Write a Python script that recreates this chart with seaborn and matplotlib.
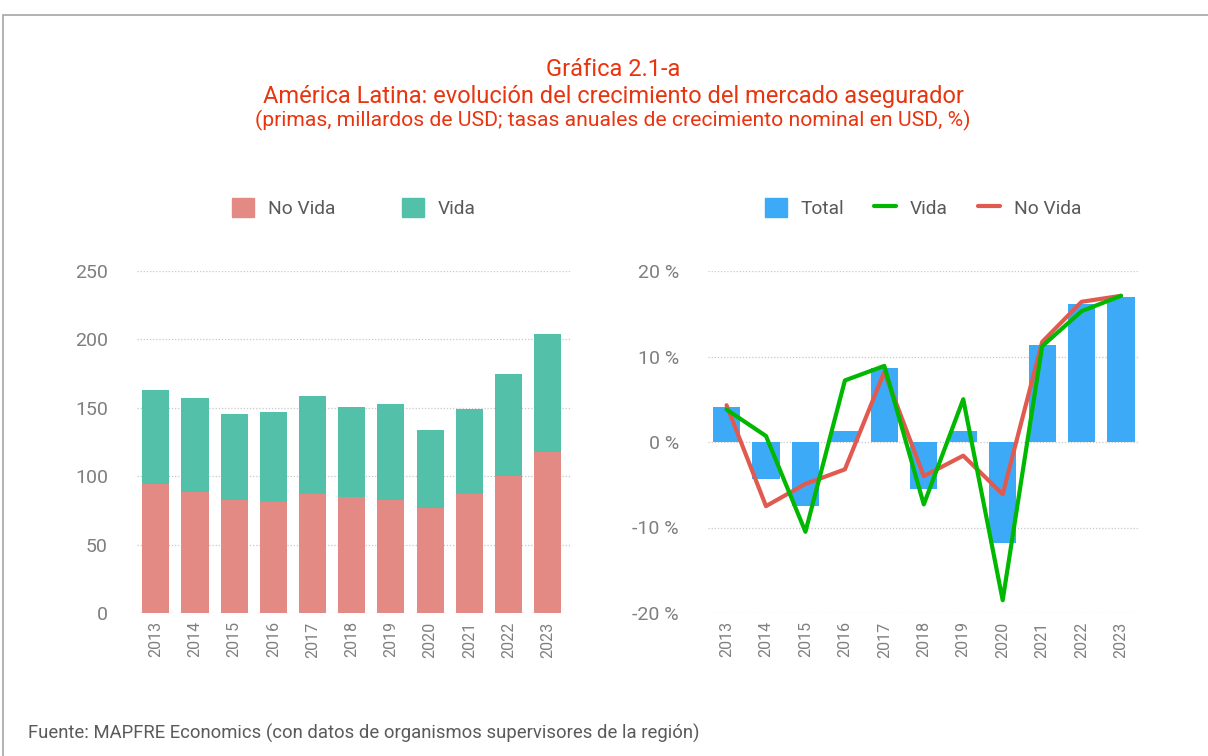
import numpy as np
import pandas as pd
import matplotlib.pyplot as plt
import seaborn as sns
from matplotlib.patches import Patch, Rectangle
from matplotlib.lines import Line2D
from matplotlib.ticker import FuncFormatter

# Data
years = ["2013", "2014", "2015", "2016", "2017", "2018", "2019", "2020", "2021", "2022", "2023"]
no_vida = [94.4, 88.7, 82.9, 80.9, 86.8, 84.8, 82.6, 77.0, 86.8, 100.2, 118.0]
vida = [68.9, 68.7, 62.8, 66.2, 72.1, 66.0, 70.4, 57.0, 62.5, 74.8, 86.3]

g_total = [4.1, -4.3, -7.5, 1.3, 8.6, -5.5, 1.3, -11.8, 11.4, 16.1, 17.0]
g_vida = [3.8, 0.7, -10.5, 7.2, 8.9, -7.3, 5.0, -18.5, 11.2, 15.3, 17.1]
g_no_vida = [4.3, -7.5, -4.9, -3.2, 8.2, -4.0, -1.6, -6.1, 11.7, 16.4, 17.1]

# colours
C_NV = "#E48A84"
C_V = "#53C1A9"
C_TOT = "#3DAAF8"
C_LV = "#00B800"
C_LNV = "#E05A50"
RED_T = "#E8340F"
GRAY = "#7F7F7F"

sns.set_theme(style="white")
plt.rcParams['font.family'] = ['Roboto', 'DejaVu Sans']

df = pd.DataFrame({"year": years, "no_vida": no_vida, "vida": vida})
df["total"] = df["no_vida"] + df["vida"]
dg = pd.DataFrame({"year": years, "total": g_total, "vida": g_vida, "no_vida": g_no_vida})

W, H = 1208, 756
fig = plt.figure(figsize=(W / 100, H / 100), dpi=100)

# frame
fig.patches.append(Rectangle((3 / W, -0.05), 1.1, 1 - 15 / H + 0.05, transform=fig.transFigure,
                             fill=False, edgecolor="#A6A6A6", linewidth=1.2))

# titles
fig.text(613 / W, 1 - 70 / H, "Gráfica 2.1-a", color=RED_T, fontsize=17,
         ha="center", va="center")
fig.text(613 / W, 1 - 96 / H, "América Latina: evolución del crecimiento del mercado asegurador",
         color=RED_T, fontsize=17, ha="center", va="center")
fig.text(613 / W, 1 - 120 / H, "(primas, millardos de USD; tasas anuales de crecimiento nominal en USD, %)",
         color=RED_T, fontsize=15.2, ha="center", va="center")

fig.text(28 / W, 1 - 733 / H, "Fuente: MAPFRE Economics (con datos de organismos supervisores de la región)",
         color="#5A5A5A", fontsize=13.3, ha="left", va="center")

# axes positions
ax1 = fig.add_axes([137 / W, 1 - 613 / H, (570 - 137) / W, (613 - 271) / H])
ax2 = fig.add_axes([708 / W, 1 - 613 / H, (1138 - 708) / W, (613 - 271) / H])

# left: stacked bars
sns.barplot(data=df, x="year", y="total", color=C_V, width=0.69, saturation=1, linewidth=0, ax=ax1)
sns.barplot(data=df, x="year", y="no_vida", color=C_NV, width=0.69, saturation=1, linewidth=0, ax=ax1)
ax1.set_ylim(0, 250)
ax1.set_yticks([0, 50, 100, 150, 200, 250])
ax1.set_xlim(-0.48, 10.57)

# right: bars + lines
sns.barplot(data=dg, x="year", y="total", color=C_TOT, width=0.69, saturation=1, linewidth=0, ax=ax2)
sns.lineplot(data=dg, x="year", y="no_vida", color=C_LNV, linewidth=3, ax=ax2, sort=False)
sns.lineplot(data=dg, x="year", y="vida", color=C_LV, linewidth=3, ax=ax2, sort=False)
ax2.set_ylim(-20, 20)
ax2.set_yticks([-20, -10, 0, 10, 20])
ax2.yaxis.set_major_formatter(FuncFormatter(lambda v, p: f"{int(v)} %"))
ax2.set_xlim(-0.47, 10.43)

for ax in (ax1, ax2):
    ax.set_xlabel("")
    ax.set_ylabel("")
    for s in ax.spines.values():
        s.set_visible(False)
    ax.grid(axis="y", color="#C8C8C8", linestyle=(0, (1, 1.5)), linewidth=0.9)
    ax.set_axisbelow(True)
    ax.tick_params(axis="y", colors=GRAY, labelsize=14, length=0, pad=21)
    ax.tick_params(axis="x", colors=GRAY, labelsize=11.5, length=0, pad=6, labelrotation=90)

# legends
h1 = [Patch(color=C_NV), Patch(color=C_V)]
fig.legend(h1, ["No Vida", "Vida"], loc="center", bbox_to_anchor=(354 / W, 1 - 208 / H), ncol=2,
           frameon=False, fontsize=13.8, handlelength=1.15, handleheight=1.15, handletextpad=0.7,
           columnspacing=3.5, labelcolor="#595959")
h2 = [Patch(color=C_TOT), Line2D([], [], color=C_LV, lw=3), Line2D([], [], color=C_LNV, lw=3)]
fig.legend(h2, ["Total", "Vida", "No Vida"], loc="center", bbox_to_anchor=(923 / W, 1 - 208 / H), ncol=3,
           frameon=False, fontsize=13.8, handlelength=1.15, handleheight=1.15, handletextpad=0.7,
           columnspacing=1.6, labelcolor="#595959")

fig.savefig("out.png", dpi=100)
